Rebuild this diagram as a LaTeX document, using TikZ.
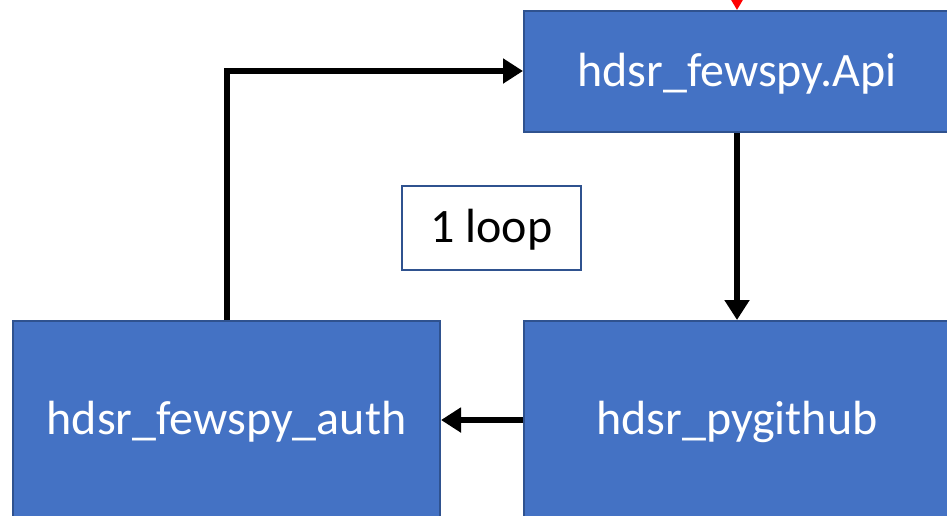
\documentclass[tikz,border=0pt]{standalone}
\usepackage{fontspec}
\setmainfont{Carlito}
\usetikzlibrary{arrows.meta}
\definecolor{boxfill}{HTML}{4472C4}
\definecolor{boxline}{HTML}{2F528F}
\begin{document}
\begin{tikzpicture}[x=1pt,y=-1pt,
  block/.style={draw=boxline, line width=2pt, fill=boxfill, text=white,
    minimum width=426pt, minimum height=198pt, font=\fontsize{48}{48}\selectfont,
    inner sep=0pt, text depth=4pt},
  tag/.style={draw=boxline, line width=1.5pt, fill=white, text=black,
    minimum width=179pt, minimum height=84pt, font=\fontsize{48}{48}\selectfont,
    inner sep=0pt, text depth=4pt},
  flow/.style={line width=6pt, -{Triangle[length=20pt,width=24pt]}},
  feed/.style={line width=3pt, red, -{Triangle[length=16pt,width=18pt]}}]
\useasboundingbox (0,0) rectangle (947,515);
\clip (0,0) rectangle (947,515);
\node[block, minimum height=121pt] (api) at (737,71.5) {hdsr\_fewspy.Api};
\node[block] (gh) at (737,420) {hdsr\_pygithub};
\node[block, minimum width=427pt] (auth) at (226.5,420) {hdsr\_fewspy\_auth};
\node[tag] (loop) at (491.5,228) {1 loop};
\coordinate (src) at (737,-30);
\draw[feed] (src) -- (api.north);
\draw[flow] (api.south) -- (gh.north);
\draw[flow] (gh.west) -- (auth.east);
\draw[flow] (auth.north) |- (api.west |- 0,71);
\end{tikzpicture}
\end{document}
